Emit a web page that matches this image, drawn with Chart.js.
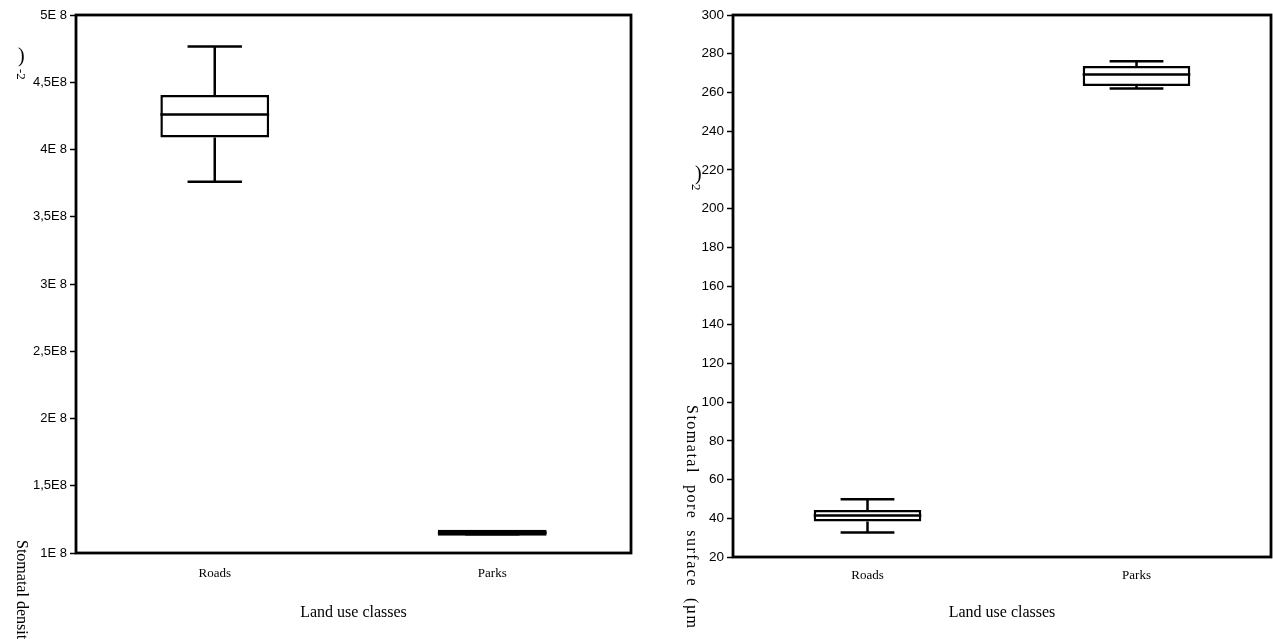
<!DOCTYPE html>
<html>
<head>
<meta charset="utf-8">
<script src="https://cdn.jsdelivr.net/npm/chart.js@4.4.1/dist/chart.umd.min.js"></script>
<style>
  html, body { margin: 0; padding: 0; background: #fff; }
  #wrap { position: relative; width: 1273px; height: 639px; overflow: hidden; }
  #c1 { position: absolute; left: 0; top: 0; }
  #c2 { position: absolute; left: 650px; top: 0; }
</style>
</head>
<body>
<div id="wrap">
  <canvas id="c1" width="650" height="639"></canvas>
  <canvas id="c2" width="623" height="639"></canvas>
</div>
<script>
// ---- data ----
const categories = ["Roads", "Parks"];

// Left panel: stomatal density
const densityMin    = [3.76e8, 1.14e8];
const densityQ1     = [4.09e8, 1.128e8];
const densityMedian = [4.26e8, 1.15e8];
const densityQ3     = [4.405e8, 1.172e8];
const densityMax    = [4.765e8, 1.16e8];
const densityTickLabels = ["1E 8", "1,5E8", "2E 8", "2,5E8", "3E 8", "3,5E8", "4E 8", "4,5E8", "5E 8"];

// Right panel: stomatal pore surface
const poreMin    = [32.7, 262];
const poreQ1     = [38.4, 263.3];
const poreMedian = [41.4, 269.2];
const poreQ3     = [44.3, 273.7];
const poreMax    = [49.8, 276.1];
const poreTickLabels = ["20","40","60","80","100","120","140","160","180","200","220","240","260","280","300"];

const xTitle = "Land use classes";

// ---- plugins ----
const LW = 2.5;
const boxPlugin = {
  id: 'boxWhiskers',
  afterDatasetsDraw(chart, args, opts) {
    const ctx = chart.ctx, y = chart.scales.y;
    const meta = chart.getDatasetMeta(0);
    ctx.save();
    ctx.strokeStyle = '#000';
    ctx.lineWidth = LW;
    ctx.lineCap = 'butt';
    meta.data.forEach((el, i) => {
      const x = el.x, w = el.width;
      const yMin = y.getPixelForValue(opts.min[i]);
      const yQ1 = y.getPixelForValue(opts.q1[i]);
      const yMed = y.getPixelForValue(opts.med[i]);
      const yQ3 = y.getPixelForValue(opts.q3[i]);
      const yMax = y.getPixelForValue(opts.max[i]);
      ctx.beginPath();
      if (yMax < yQ3) { ctx.moveTo(x, yQ3); ctx.lineTo(x, yMax); }
      if (yMin > yQ1) { ctx.moveTo(x, yQ1); ctx.lineTo(x, yMin); }
      ctx.moveTo(x - w / 4, yMax); ctx.lineTo(x + w / 4, yMax);
      ctx.moveTo(x - w / 4, yMin); ctx.lineTo(x + w / 4, yMin);
      ctx.moveTo(x - w / 2, yMed); ctx.lineTo(x + w / 2, yMed);
      ctx.stroke();
    });
    ctx.restore();
  }
};

const framePlugin = {
  id: 'frame',
  afterDraw(chart, args, opts) {
    const ctx = chart.ctx, a = chart.chartArea;
    ctx.save();
    ctx.strokeStyle = '#000';
    ctx.lineWidth = 2.8;
    ctx.strokeRect(a.left, a.top, a.right - a.left, a.bottom - a.top);
    ctx.fillStyle = '#000';
    ctx.textBaseline = 'middle';
    ctx.textAlign = 'left';
    (opts.titles || []).forEach(t => {
      ctx.save();
      ctx.translate(t.x, t.y);
      if (t.rotate !== false) ctx.rotate(Math.PI / 2);
      ctx.font = t.font;
      if (t.spacing) ctx.letterSpacing = t.spacing;
      ctx.fillText(t.text, 0, 0);
      ctx.restore();
    });
    ctx.restore();
  }
};

function makeChart(canvasId, cfg) {
  return new Chart(document.getElementById(canvasId), {
    type: 'bar',
    data: {
      labels: categories,
      datasets: [{
        data: cfg.q1.map((v, i) => [v, cfg.q3[i]]),
        backgroundColor: '#fff',
        borderColor: '#000',
        borderWidth: LW,
        borderSkipped: false,
        barPercentage: 0.8,
        categoryPercentage: cfg.catPct
      }]
    },
    plugins: [boxPlugin, framePlugin],
    options: {
      responsive: false,
      animation: false,
      layout: { padding: { left: 0, right: cfg.padRight, top: 15, bottom: 0 } },
      plugins: {
        legend: { display: false },
        tooltip: { enabled: false },
        boxWhiskers: { min: cfg.min, q1: cfg.q1, med: cfg.med, q3: cfg.q3, max: cfg.max },
        frame: { titles: cfg.titles }
      },
      scales: {
        x: {
          grid: { display: false },
          border: { display: false },
          ticks: { color: '#000', font: { family: 'Liberation Serif', size: 13 }, padding: cfg.xPad },
          title: { display: true, text: xTitle, color: '#000',
                   font: { family: 'Liberation Serif', size: 16 }, padding: { top: 0, bottom: 17 } },
          afterFit: s => { s.height = cfg.xHeight; }
        },
        y: {
          min: cfg.yMin, max: cfg.yMax,
          border: { display: false },
          grid: { drawOnChartArea: false, drawTicks: true, tickLength: 6, tickColor: '#000', tickWidth: 1.5 },
          ticks: {
            stepSize: cfg.step, color: '#000', padding: 3,
            font: { family: cfg.tickFamily, size: cfg.tickSize },
            callback: (v, i) => cfg.tickLabels[i]
          },
          afterFit: s => { s.width = cfg.yWidth; }
        }
      }
    }
  });
}

makeChart('c1', {
  min: densityMin, q1: densityQ1, med: densityMedian, q3: densityQ3, max: densityMax,
  tickLabels: densityTickLabels, yMin: 1e8, yMax: 5e8, step: 0.5e8,
  yWidth: 76, padRight: 19, xHeight: 86, catPct: 0.49, xPad: 5, tickSize: 13,
  tickFamily: "'Liberation Sans', Arial, sans-serif",
  titles: [
    { x: 21, y: 540, text: 'Stomatal density (m', font: '16px "Liberation Serif"' },
    { x: 18, y: 57, text: ')', font: '20px "Liberation Serif"', rotate: false },
    { x: 20, y: 69, text: '-2', font: '13px "Liberation Serif"' }
  ]
});

makeChart('c2', {
  min: poreMin, q1: poreQ1, med: poreMedian, q3: poreQ3, max: poreMax,
  tickLabels: poreTickLabels, yMin: 20, yMax: 300, step: 20,
  yWidth: 83, padRight: 2, xHeight: 82, catPct: 0.50, xPad: 3, tickSize: 13.5,
  tickFamily: "'Liberation Sans', Arial, sans-serif",
  titles: [
    { x: 41, y: 405, text: 'Stomatal  pore  surface  (µm', font: '16px "Liberation Serif"', spacing: '1.5px' },
    { x: 45, y: 175, text: ')', font: '20px "Liberation Serif"', rotate: false },
    { x: 45, y: 184, text: '2', font: '13px "Liberation Serif"' }
  ]
});
</script>
</body>
</html>
